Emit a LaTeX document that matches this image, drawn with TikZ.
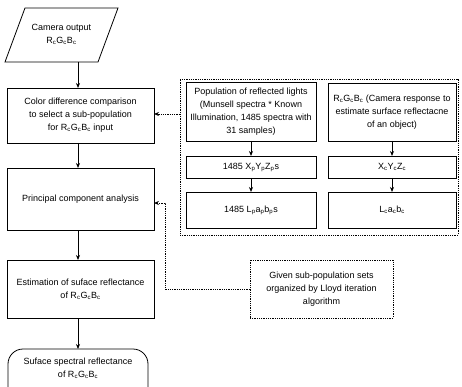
\documentclass[tikz,border=0pt]{standalone}
\usepackage{fontspec}
\setmainfont{Liberation Sans}
\usetikzlibrary{arrows.meta}
\newcommand{\sbs}[1]{\textsubscript{#1}}
\begin{document}
\begin{tikzpicture}[x=1pt,y=-1pt,
  font=\fontsize{9}{13}\selectfont,
  line width=0.8pt,
  box/.style={draw, align=center, inner sep=0pt, outer sep=0pt},
  dbox/.style={box, densely dotted},
  arr/.style={-{Stealth[length=5pt,width=4pt]}},
  darr/.style={densely dotted, -{Stealth[length=5pt,width=4pt]}}]
\useasboundingbox (0,0) rectangle (462,387);
% left column
\draw (25,8) -- (118,8) -- (98,62) -- (5,62) -- cycle;
\node[align=center] (p) at (61.5,34) {Camera output\\R\sbs{c}G\sbs{c}B\sbs{c}};
\coordinate (pb) at (78,62);
\node[box, minimum width=147, minimum height=55] (b2) at (80.5,115.5)
  {Color difference comparison\\to select a sub-population\\for R\sbs{c}G\sbs{c}B\sbs{c} input};
\node[box, minimum width=147, minimum height=62] (b3) at (80.5,199)
  {Principal component analysis};
\node[box, minimum width=147, minimum height=58] (b4) at (80.5,289)
  {Estimation of suface reflectance\\of R\sbs{c}G\sbs{c}B\sbs{c}};
\draw[rounded corners=15pt] (8,400) -- (8,349) -- (148,349) -- (148,400);
\node[align=center] (t) at (78,368) {Suface spectral reflectance\\of R\sbs{c}G\sbs{c}B\sbs{c}};
\coordinate (tt) at (78,349);
\draw[arr] (pb) -- (b2.north -| pb);
\draw[arr] (b2.south -| pb) -- (b3.north -| pb);
\draw[arr] (b3.south -| pb) -- (b4.north -| pb);
\draw[arr] (b4.south -| pb) -- (tt);
% right part
\node[dbox, minimum width=278, minimum height=156] (outer) at (319,157) {};
\node[box, minimum width=130, minimum height=59] (ra) at (251,111.5)
  {Population of reflected lights\\(Munsell spectra * Known\\Illumination, 1485 spectra with\\31 samples)};
\node[box, minimum width=130, minimum height=22] (rb) at (251,167)
  {1485 X\sbs{p}Y\sbs{p}Z\sbs{p}s};
\node[box, minimum width=130, minimum height=36] (rc) at (251,210)
  {1485 L\sbs{p}a\sbs{p}b\sbs{p}s};
\node[box, minimum width=128, minimum height=58] (rd) at (392,112)
  {R\sbs{c}G\sbs{c}B\sbs{c} (Camera response to\\estimate surface reflectacne\\of an object)};
\node[box, minimum width=128, minimum height=22] (re) at (392,167)
  {X\sbs{c}Y\sbs{c}Z\sbs{c}};
\node[box, minimum width=128, minimum height=36] (rf) at (392,210)
  {L\sbs{c}a\sbs{c}b\sbs{c}};
\draw[arr] (ra) -- (rb);
\draw[arr] (rb) -- (rc);
\draw[arr] (rd) -- (re);
\draw[arr] (re) -- (rf);
\node[dbox, minimum width=143, minimum height=58] (g) at (321.5,289)
  {Given sub-population sets\\organized by Lloyd iteration\\algorithm};
\coordinate (gc) at (165,289);
\draw[darr] (outer.west |- 0,114) -- (b2.east |- 0,114);
\draw[darr] (g.west) -- (gc) -- (gc |- 0,203) -- (b3.east |- 0,203);
\end{tikzpicture}
\end{document}
